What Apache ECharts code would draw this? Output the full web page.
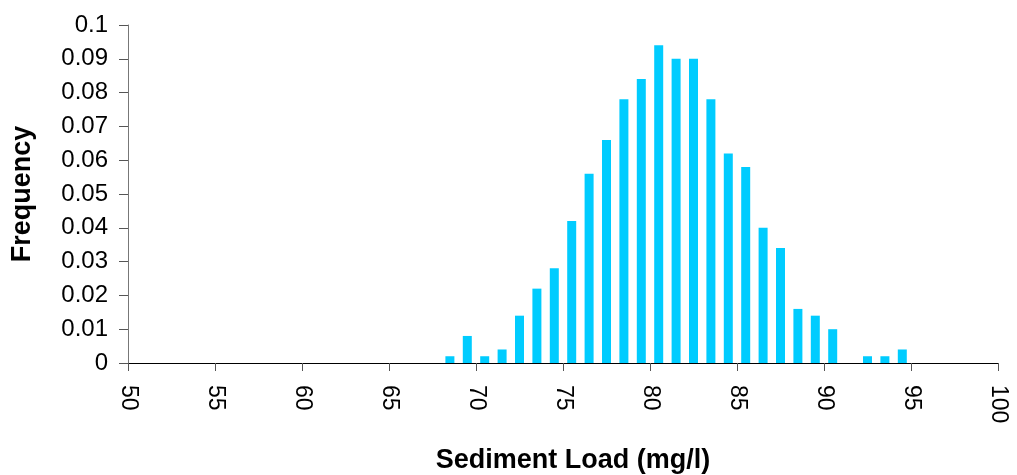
<!DOCTYPE html>
<html>
<head>
<meta charset="utf-8">
<title>Sediment Load</title>
<script src="https://cdn.jsdelivr.net/npm/echarts@6/dist/echarts.min.js"></script>
<style>
  html, body { margin: 0; padding: 0; background: #fff; }
  #chart { width: 1017px; height: 475px; }
</style>
</head>
<body>
<div id="chart"></div>
<script>
// bin centres (mg/l) and their frequencies
var binCenters = [68.5, 69.5, 70.5, 71.5, 72.5, 73.5, 74.5, 75.5, 76.5, 77.5, 78.5, 79.5,
                  80.5, 81.5, 82.5, 83.5, 84.5, 85.5, 86.5, 87.5, 88.5, 89.5, 90.5,
                  92.5, 93.5, 94.5];
var frequency = [0.002, 0.008, 0.002, 0.004, 0.014, 0.022, 0.028, 0.042, 0.056, 0.066, 0.078, 0.084,
                 0.094, 0.090, 0.090, 0.078, 0.062, 0.058, 0.040, 0.034, 0.016, 0.014, 0.010,
                 0.002, 0.002, 0.004];

var xTicks = { min: 50, max: 100, step: 5 };
var yTicks = { min: 0, max: 0.1, step: 0.01 };

var chart = echarts.init(document.getElementById('chart'));

var points = binCenters.map(function (x, i) { return [x, frequency[i]]; });

var font = 'Liberation Sans, Arial, sans-serif';

var option = {
    animation: false,
    grid: { left: 128, right: 19, top: 25, bottom: 112, outerBoundsMode: 'none', containLabel: false },
    xAxis: {
        type: 'value',
        min: xTicks.min,
        max: xTicks.max,
        interval: xTicks.step,
        name: 'Sediment Load (mg/l)',
        nameLocation: 'middle',
        nameGap: 84,
        nameTextStyle: {
            fontFamily: font, fontSize: 27, fontWeight: 'bold', color: '#000',
            padding: [0, 0, 0, 20]
        },
        splitLine: { show: false },
        axisLine: { lineStyle: { color: '#000', width: 1 } },
        axisTick: { show: true, length: 8, lineStyle: { color: '#555' } },
        axisLabel: { rotate: -90, margin: 22, fontFamily: font, fontSize: 23, color: '#000' }
    },
    yAxis: {
        type: 'value',
        min: yTicks.min,
        max: yTicks.max,
        interval: yTicks.step,
        name: 'Frequency',
        nameLocation: 'middle',
        nameRotate: 90,
        nameGap: 92,
        nameTextStyle: { fontFamily: font, fontSize: 27, fontWeight: 'bold', color: '#000' },
        splitLine: { show: false },
        axisLine: { show: true, lineStyle: { color: '#777', width: 1 } },
        axisTick: { show: true, length: 9, lineStyle: { color: '#555' } },
        axisLabel: { margin: 20, fontFamily: font, fontSize: 24, color: '#000' }
    },
    series: [{
        type: 'bar',
        data: points,
        barWidth: 9,
        itemStyle: { color: '#00CCFF' }
    }]
};

chart.setOption(option);
</script>
</body>
</html>
